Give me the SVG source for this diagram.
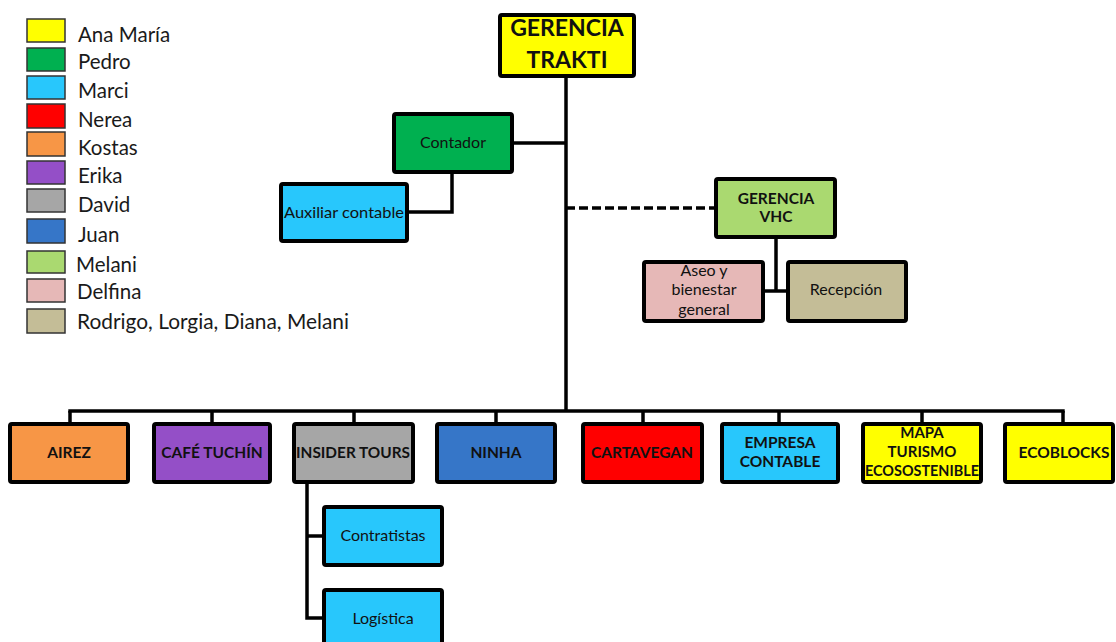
<svg xmlns="http://www.w3.org/2000/svg" width="1116" height="642" viewBox="0 0 1116 642">
<style>
.sw{stroke:#333;stroke-width:1.5}
.lg{font-family:Lato,"Open Sans",sans-serif;font-size:20.5px;fill:#1a1a1a}
.bx{stroke:#000;stroke-width:4;stroke-linejoin:round}
.t{font-family:Lato,"Open Sans",sans-serif;fill:#111;text-anchor:middle}
.b{font-weight:bold}
.r{font-size:16px}
.bb{font-size:15.5px;font-weight:bold}
.ln{stroke:#000;stroke-width:3.5;fill:none}
</style>
<rect width="1116" height="642" fill="#fff"/>
<g id="legend">
<rect class="sw" x="27" y="19" width="38" height="23" fill="#FFFF00"/><text class="lg" x="78" y="42">Ana María</text>
<rect class="sw" x="27" y="48" width="38" height="23" fill="#00B050"/><text class="lg" x="78" y="69">Pedro</text>
<rect class="sw" x="27" y="76" width="38" height="23" fill="#28C7FC"/><text class="lg" x="78" y="98">Marci</text>
<rect class="sw" x="27" y="104" width="38" height="24" fill="#FF0000"/><text class="lg" x="78" y="127">Nerea</text>
<rect class="sw" x="27" y="132" width="38" height="24" fill="#F79646"/><text class="lg" x="78" y="155">Kostas</text>
<rect class="sw" x="27" y="161" width="38" height="23" fill="#944FC7"/><text class="lg" x="78" y="183">Erika</text>
<rect class="sw" x="27" y="189" width="38" height="23" fill="#A6A6A6"/><text class="lg" x="78" y="212">David</text>
<rect class="sw" x="27" y="219" width="38" height="24" fill="#3676C8"/><text class="lg" x="78" y="242">Juan</text>
<rect class="sw" x="27" y="251" width="38" height="22" fill="#AAD970"/><text class="lg" x="76" y="272">Melani</text>
<rect class="sw" x="27" y="279" width="38" height="23" fill="#E6B8B7"/><text class="lg" x="77" y="299">Delfina</text>
<rect class="sw" x="27" y="309" width="38" height="24" fill="#C4BD97"/><text class="lg" x="77" y="329" textLength="272" lengthAdjust="spacingAndGlyphs">Rodrigo, Lorgia, Diana, Melani</text>
</g>
<g id="connectors">
<line class="ln" x1="566" y1="77" x2="566" y2="411"/>
<line class="ln" x1="513" y1="143" x2="566" y2="143"/>
<polyline class="ln" points="452,173 452,212 408,212"/>
<line x1="566" y1="208" x2="715" y2="208" stroke="#000" stroke-width="3.5" stroke-dasharray="9,4"/>
<line class="ln" x1="776" y1="238" x2="776" y2="291"/>
<line class="ln" x1="764" y1="291" x2="787" y2="291"/>
<line class="ln" x1="68.3" y1="411" x2="1064.7" y2="411"/>
<path class="ln" d="M70 411V423M212 411V423M354 411V423M496 411V423M643 411V423M779 411V423M922 411V423M1063 411V423"/>
<polyline class="ln" points="307,483 307,618 323,618"/>
<line class="ln" x1="307" y1="536" x2="323" y2="536"/>
</g>
<g id="gerencia-trakti"><rect class="bx" x="500" y="15" width="134" height="61" rx="2" fill="#FFFF00"/><text class="t b" x="567" y="36" font-size="23">GERENCIA</text><text class="t b" x="567" y="68" font-size="23">TRAKTI</text></g>
<g id="contador"><rect class="bx" x="394" y="114" width="118" height="58" rx="2" fill="#00B050"/><text class="t r" x="453" y="148">Contador</text></g>
<g id="auxiliar"><rect class="bx" x="281" y="184" width="126" height="57" rx="2" fill="#28C7FC"/><text class="t r" x="344" y="218" textLength="120" lengthAdjust="spacingAndGlyphs">Auxiliar contable</text></g>
<g id="gerencia-vhc"><rect class="bx" x="716" y="179" width="119" height="58" rx="2" fill="#AAD970"/><text class="t bb" x="776" y="204">GERENCIA</text><text class="t bb" x="776" y="222">VHC</text></g>
<g id="aseo"><rect class="bx" x="644" y="262" width="119" height="59" rx="2" fill="#E6B8B7"/><text class="t r" x="704" y="276">Aseo y</text><text class="t r" x="704" y="295">bienestar</text><text class="t r" x="704" y="315">general</text></g>
<g id="recepcion"><rect class="bx" x="788" y="262" width="118" height="59" rx="2" fill="#C4BD97"/><text class="t r" x="846" y="295">Recepción</text></g>
<g id="airez"><rect class="bx" x="10" y="424" width="118" height="58" rx="2" fill="#F79646"/><text class="t bb" x="69" y="458">AIREZ</text></g>
<g id="cafe-tuchin"><rect class="bx" x="154" y="424" width="116" height="58" rx="2" fill="#944FC7"/><text class="t bb" x="212" y="458">CAFÉ TUCHÍN</text></g>
<g id="insider-tours"><rect class="bx" x="294" y="424" width="119" height="58" rx="2" fill="#A6A6A6"/><text class="t bb" x="353" y="458" textLength="114" lengthAdjust="spacingAndGlyphs">INSIDER TOURS</text></g>
<g id="ninha"><rect class="bx" x="437" y="424" width="118" height="58" rx="2" fill="#3676C8"/><text class="t bb" x="496" y="458">NINHA</text></g>
<g id="cartavegan"><rect class="bx" x="583" y="424" width="119" height="58" rx="2" fill="#FF0000"/><text class="t bb" x="642" y="458">CARTAVEGAN</text></g>
<g id="empresa-contable"><rect class="bx" x="722" y="424" width="116" height="58" rx="2" fill="#28C7FC"/><text class="t bb" x="780" y="448">EMPRESA</text><text class="t bb" x="780" y="467">CONTABLE</text></g>
<g id="mapa"><rect class="bx" x="863" y="424" width="118" height="58" rx="2" fill="#FFFF00"/><text class="t b" x="922" y="438" font-size="15">MAPA</text><text class="t b" x="922" y="457" font-size="15">TURISMO</text><text class="t b" x="922" y="476" font-size="15" textLength="114" lengthAdjust="spacingAndGlyphs">ECOSOSTENIBLE</text></g>
<g id="ecoblocks"><rect class="bx" x="1005" y="424" width="108" height="58" rx="2" fill="#FFFF00"/><text class="t bb" x="1064" y="458">ECOBLOCKS</text></g>
<g id="contratistas"><rect class="bx" x="324" y="507" width="118" height="58" rx="2" fill="#28C7FC"/><text class="t r" x="383" y="541">Contratistas</text></g>
<g id="logistica"><rect class="bx" x="324" y="590" width="118" height="60" rx="2" fill="#28C7FC"/><text class="t r" x="383" y="624">Logística</text></g>
</svg>
